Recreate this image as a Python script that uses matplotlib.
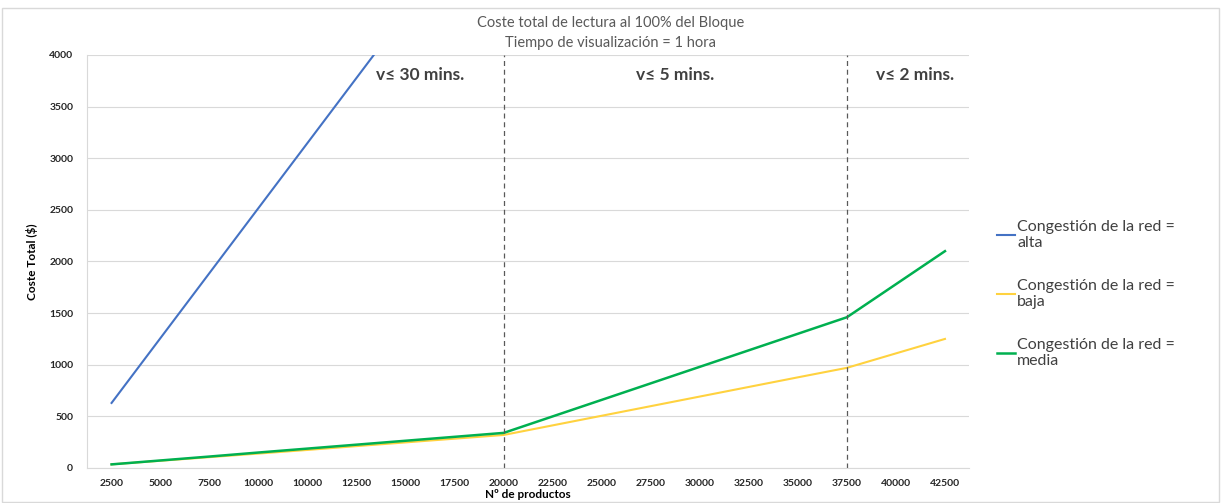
import matplotlib
matplotlib.use("Agg")
import matplotlib.pyplot as plt
import numpy as np

# category axis (note: 10000 appears twice in the original)
productos = ["2500", "5000", "7500", "10000", "10000", "12500", "15000", "17500",
             "20000", "22500", "25000", "27500", "30000", "32500", "35000",
             "37500", "40000", "42500"]

coste_alta = [630, 1260, 1890, 2520, 3150, 3780, 4410, 5040, 5670,
              6900, 8100, 9300, 10500, 11700, 12900, 14100, 16500, 18900]
coste_baja = [35, 70, 105, 140, 175, 212, 248, 284, 320,
              413, 506, 599, 692, 785, 878, 970, 1110, 1250]
coste_media = [35, 73, 111, 150, 188, 226, 264, 302, 340,
               500, 660, 820, 980, 1140, 1300, 1460, 1780, 2100]

zonas = ["v\u2264 30 mins.", "v\u2264 5 mins.", "v\u2264 2 mins."]
zona_x = [6.3, 11.5, 16.4]
cortes = [8, 15]

plt.rcParams['font.family'] = ['Lato', 'DejaVu Sans']

fig = plt.figure(figsize=(12.21, 5.03), dpi=100)
ax = fig.add_axes([0.0713, 0.0696, 0.7227, 0.8211])

x = np.arange(len(productos))
ax.plot(x, coste_alta, color="#4472C4", lw=1.5, label="Congesti\u00f3n de la red =\nalta")
ax.plot(x, coste_baja, color="#FFD23F", lw=1.5, label="Congesti\u00f3n de la red =\nbaja")
ax.plot(x, coste_media, color="#00B050", lw=1.8, label="Congesti\u00f3n de la red =\nmedia")

for c in cortes:
    ax.axvline(c, color="#595959", lw=0.9, ls=(0, (4, 3)))

for t, zx in zip(zonas, zona_x):
    ax.text(zx, 3810, t, ha="center", va="center", fontsize=12.5,
            fontweight="bold", color="#404040")

ax.set_xlim(-0.5, 17.5)
ax.set_ylim(0, 4000)
ax.set_yticks(np.arange(0, 4001, 500))
ax.set_xticks(x)
ax.set_xticklabels(productos)
ax.tick_params(axis="x", length=0, labelsize=7.5, colors="#262626", pad=8)
ax.tick_params(axis="y", length=0, labelsize=7.5, colors="#262626", pad=10)
for lbl in ax.get_xticklabels() + ax.get_yticklabels():
    lbl.set_fontweight("bold")
ax.grid(axis="y", color="#D9D9D9", lw=0.8)
ax.set_axisbelow(True)
for s in ["top", "right"]:
    ax.spines[s].set_visible(False)
ax.spines["left"].set_color("#D9D9D9")
ax.spines["bottom"].set_color("#D9D9D9")

ax.set_xlabel("N\u00ba de productos", fontsize=8.5, fontweight="bold", labelpad=1)
ax.set_ylabel("Coste Total ($)", fontsize=8.5, fontweight="bold", labelpad=8)

fig.text(0.5, 0.955, "Coste total de lectura al 100% del Bloque", ha="center",
         va="center", fontsize=10.5, color="#595959")
fig.text(0.5, 0.915, "Tiempo de visualizaci\u00f3n = 1 hora", ha="center",
         va="center", fontsize=10.5, color="#595959")

fig.legend(loc="center left", bbox_to_anchor=(0.805, 0.415), frameon=False,
           fontsize=11.5, labelcolor="#404040", handlelength=1.1,
           handletextpad=0.15, labelspacing=1.8)

fig.patches.append(plt.Rectangle((0.002, 0.002), 0.996, 0.982, transform=fig.transFigure,
                                 fill=False, edgecolor="#D9D9D9", lw=1))

fig.savefig("out.png", dpi=100)
